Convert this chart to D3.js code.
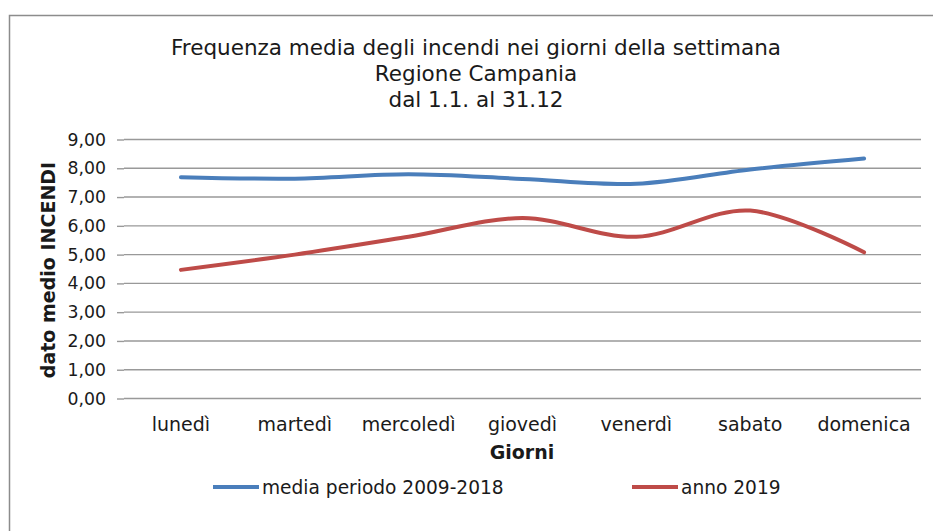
<!DOCTYPE html>
<html>
<head>
<meta charset="utf-8">
<script src="https://cdn.jsdelivr.net/npm/d3@7"></script>
<style>
  body { margin: 0; background: #fff; }
  svg { display: block; font-family: "DejaVu Sans", Verdana, sans-serif; }
</style>
</head>
<body>
<div id="chart"></div>
<script>
const days = ['lunedì', 'martedì', 'mercoledì', 'giovedì', 'venerdì', 'sabato', 'domenica']
const media = [7.69, 7.64, 7.79, 7.63, 7.46, 7.96, 8.34]
const anno2019 = [4.47, 5.0, 5.62, 6.27, 5.62, 6.53, 5.08]
const yTicks = [0, 1, 2, 3, 4, 5, 6, 7, 8, 9]
const titleLines = ['Frequenza media degli incendi nei giorni della settimana', 'Regione Campania', 'dal 1.1. al 31.12']
const series = [
  {name: 'media periodo 2009-2018', values: media, color: '#4a7ebb'},
  {name: 'anno 2019', values: anno2019, color: '#be4b48'}
]

const width = 933
const height = 531
const svg = d3.select('#chart').append('svg')
  .attr('width', width)
  .attr('height', height)

// outer chart frame (only top and left visible)
svg.append('path')
  .attr('d', 'M9.5,531 V15.5 H933')
  .attr('fill', 'none')
  .attr('stroke', '#8c8c8c')
  .attr('stroke-width', 1.5)

const x = d3.scaleBand().domain(days).range([124, 921])
const y = d3.scaleLinear().domain([0, 9]).range([398.5, 139.5])

// title
svg.append('text')
  .attr('x', 476)
  .attr('y', 55)
  .attr('text-anchor', 'middle')
  .style('font-size', '21.5px')
  .attr('fill', '#1a1a1a')
  .selectAll('tspan')
  .data(titleLines)
  .enter().append('tspan')
  .attr('x', 476)
  .attr('dy', (d, i) => i === 0 ? 0 : 26)
  .text((d) => d)

// gridlines
svg.append('g')
  .selectAll('line')
  .data(yTicks)
  .enter().append('line')
  .attr('x1', 124)
  .attr('x2', 921)
  .attr('y1', (d) => y(d))
  .attr('y2', (d) => y(d))
  .attr('stroke', '#999')
  .attr('stroke-width', 1.4)

// y axis
const yAxis = d3.axisLeft(y)
  .tickValues(yTicks)
  .tickSize(7)
  .tickPadding(11)
  .tickFormat((d) => d3.format('.2f')(d).replace('.', ','))
const gy = svg.append('g')
  .attr('transform', 'translate(124,0)')
  .call(yAxis)
gy.select('.domain').remove()
gy.selectAll('.tick line').attr('stroke', '#999').attr('stroke-width', 1.4)
gy.selectAll('.tick text')
  .style('font-size', '17.3px')
  .style('font-family', '"DejaVu Sans", Verdana, sans-serif')
  .attr('fill', '#1a1a1a')

// x axis labels
const xAxis = d3.axisBottom(x).tickSize(0).tickPadding(19)
const gx = svg.append('g')
  .attr('transform', 'translate(0,' + y(0) + ')')
  .call(xAxis)
gx.select('.domain').remove()
gx.selectAll('.tick text')
  .attr('dy', null)
  .attr('y', 32.5)
  .style('font-size', '19px')
  .style('font-family', '"DejaVu Sans", Verdana, sans-serif')
  .attr('fill', '#1a1a1a')

// axis titles
svg.append('text')
  .attr('x', 522)
  .attr('y', 459)
  .attr('text-anchor', 'middle')
  .style('font-size', '19px')
  .style('font-weight', 'bold')
  .attr('fill', '#1a1a1a')
  .text('Giorni')

svg.append('text')
  .attr('transform', 'translate(55,270) rotate(-90)')
  .attr('text-anchor', 'middle')
  .style('font-size', '19px')
  .style('font-weight', 'bold')
  .attr('fill', '#1a1a1a')
  .text('dato medio INCENDI')

// lines
const line = d3.line()
  .x((d, i) => x(days[i]) + x.bandwidth() / 2)
  .y((d) => y(d))
  .curve(d3.curveCardinal.tension(0))

svg.append('g')
  .selectAll('path')
  .data(series)
  .enter().append('path')
  .attr('d', (d) => line(d.values))
  .attr('fill', 'none')
  .attr('stroke', (d) => d.color)
  .attr('stroke-width', 4)
  .attr('stroke-linecap', 'round')

// legend
const legendX = [213, 632]
const legend = svg.append('g')
  .selectAll('g')
  .data(series)
  .enter().append('g')
  .attr('transform', (d, i) => 'translate(' + legendX[i] + ',487)')
legend.append('line')
  .attr('x1', 0)
  .attr('x2', 46)
  .attr('stroke', (d) => d.color)
  .attr('stroke-width', 4)
legend.append('text')
  .attr('x', 49)
  .attr('y', 7)
  .style('font-size', '18.6px')
  .attr('fill', '#1a1a1a')
  .text((d) => d.name)
</script>
</body>
</html>
